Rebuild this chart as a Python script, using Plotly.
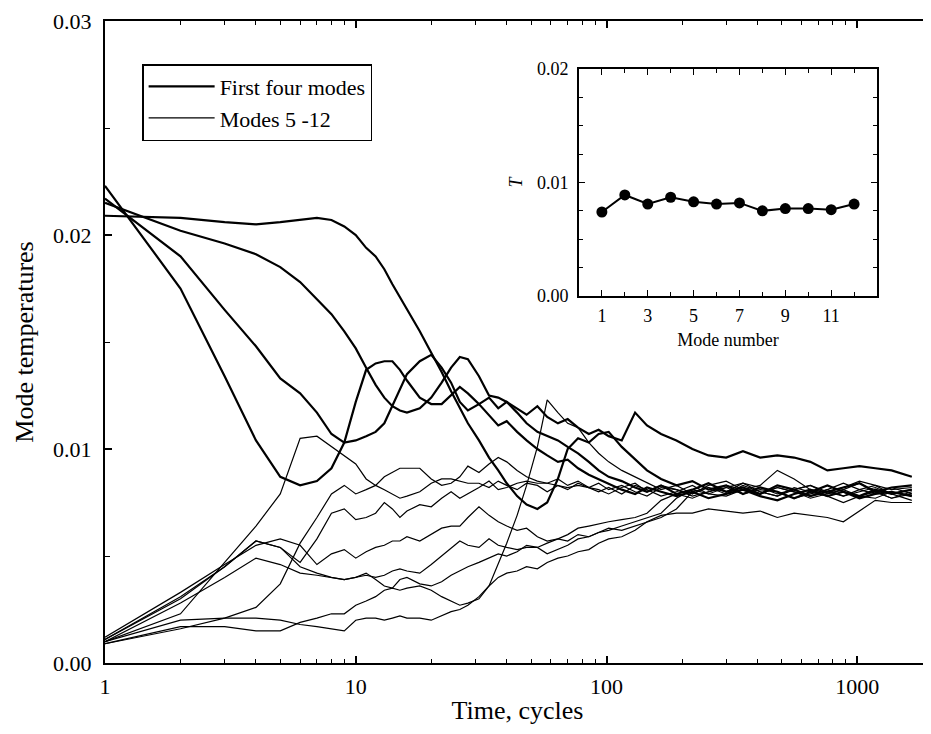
import plotly.graph_objects as go

# ---------------- data ----------------
TIME = [1, 2, 3, 4, 5, 6, 7, 8, 9, 10,
        11, 12, 13, 14, 15, 16, 18, 20, 22, 24, 26, 28, 31, 34, 37, 40, 44, 48, 53, 58, 64, 70, 77, 85, 93,
        102, 115, 130, 145, 165, 190, 220, 255, 300, 350, 410, 480, 560, 650, 760, 880, 1020, 1180, 1370, 1650]

mode1 = [0.0209, 0.0208, 0.0206, 0.0205, 0.0206, 0.0207, 0.0208, 0.0207, 0.0204, 0.0200,
         0.0194, 0.0190, 0.0184, 0.0177, 0.0171, 0.0165, 0.0155, 0.0145, 0.0136, 0.0127, 0.0119, 0.0112, 0.0104,
         0.0096, 0.0090, 0.0084, 0.0078, 0.0074, 0.0072, 0.0075, 0.0086, 0.0100, 0.0105, 0.0103, 0.0107,
         0.0108, 0.0101, 0.0095, 0.0090, 0.0086, 0.0083, 0.0085, 0.0081, 0.0083, 0.0079, 0.0082, 0.0080,
         0.0077, 0.0080, 0.0083, 0.0080, 0.0078, 0.0081, 0.0079, 0.0081]
mode2 = [0.0215, 0.0202, 0.0196, 0.0191, 0.0185, 0.0178, 0.0170, 0.0163, 0.0155, 0.0147,
         0.0138, 0.0130, 0.0124, 0.0120, 0.0118, 0.0117, 0.0119, 0.0124, 0.0131, 0.0138, 0.0143, 0.0142, 0.0134,
         0.0125, 0.0124, 0.0122, 0.0117, 0.0112, 0.0108, 0.0106, 0.0104, 0.0101, 0.0098, 0.0094, 0.0090,
         0.0087, 0.0085, 0.0082, 0.0080, 0.0083, 0.0079, 0.0081, 0.0084, 0.0080, 0.0082, 0.0079, 0.0083,
         0.0081, 0.0078, 0.0080, 0.0082, 0.0084, 0.0080, 0.0082, 0.0083]
mode3 = [0.0217, 0.0190, 0.0165, 0.0148, 0.0133, 0.0126, 0.0117, 0.0107, 0.0103, 0.0104,
         0.0106, 0.0108, 0.0112, 0.0120, 0.0128, 0.0135, 0.0141, 0.0144, 0.0138, 0.0131, 0.0122, 0.0118, 0.0121,
         0.0116, 0.0111, 0.0113, 0.0108, 0.0104, 0.0100, 0.0097, 0.0094, 0.0095, 0.0091, 0.0088, 0.0086,
         0.0084, 0.0081, 0.0079, 0.0082, 0.0080, 0.0078, 0.0080, 0.0077, 0.0079, 0.0081, 0.0078, 0.0076,
         0.0079, 0.0081, 0.0078, 0.0080, 0.0077, 0.0079, 0.0080, 0.0078]
mode4 = [0.0223, 0.0175, 0.0134, 0.0104, 0.0087, 0.0083, 0.0085, 0.0091, 0.0103, 0.0122,
         0.0137, 0.0140, 0.0141, 0.0141, 0.0137, 0.0132, 0.0124, 0.0121, 0.0121, 0.0125, 0.0129, 0.0126, 0.0121,
         0.0124, 0.0119, 0.0122, 0.0119, 0.0116, 0.0120, 0.0115, 0.0112, 0.0114, 0.0110, 0.0107, 0.0109,
         0.0106, 0.0104, 0.0117, 0.0111, 0.0107, 0.0104, 0.0100, 0.0097, 0.0096, 0.0099, 0.0096, 0.0097,
         0.0096, 0.0094, 0.0090, 0.0091, 0.0092, 0.0091, 0.0090, 0.0087]

mode5 = [0.0010, 0.0023, 0.0047, 0.0064, 0.0079, 0.0105, 0.0106, 0.0101, 0.0097, 0.0093,
         0.0086, 0.0083, 0.0081, 0.0079, 0.0077, 0.0078, 0.0080, 0.0084, 0.0086, 0.0086, 0.0085, 0.0084, 0.0084,
         0.0082, 0.0085, 0.0083, 0.0081, 0.0084, 0.0083, 0.0080, 0.0083, 0.0081, 0.0084, 0.0082, 0.0080,
         0.0082, 0.0079, 0.0083, 0.0081, 0.0078, 0.0080, 0.0083, 0.0079, 0.0082, 0.0084, 0.0080, 0.0078,
         0.0081, 0.0083, 0.0079, 0.0081, 0.0084, 0.0080, 0.0077, 0.0080]
mode6 = [0.0009, 0.0016, 0.0021, 0.0026, 0.0037, 0.0056, 0.0068, 0.0079, 0.0083, 0.0079,
         0.0081, 0.0083, 0.0087, 0.0089, 0.0091, 0.0091, 0.0091, 0.0086, 0.0083, 0.0084, 0.0087, 0.0092, 0.0089,
         0.0093, 0.0096, 0.0094, 0.0090, 0.0087, 0.0085, 0.0084, 0.0086, 0.0083, 0.0085, 0.0082, 0.0084,
         0.0081, 0.0083, 0.0080, 0.0078, 0.0082, 0.0081, 0.0079, 0.0083, 0.0085, 0.0081, 0.0079, 0.0082,
         0.0080, 0.0078, 0.0081, 0.0084, 0.0081, 0.0079, 0.0082, 0.0079]
mode7 = [0.0011, 0.0031, 0.0045, 0.0057, 0.0054, 0.0047, 0.0058, 0.0070, 0.0072, 0.0067,
         0.0068, 0.0070, 0.0075, 0.0072, 0.0068, 0.0071, 0.0074, 0.0073, 0.0077, 0.0080, 0.0077, 0.0079, 0.0082,
         0.0085, 0.0081, 0.0082, 0.0084, 0.0085, 0.0084, 0.0084, 0.0083, 0.0082, 0.0083, 0.0082, 0.0081,
         0.0079, 0.0082, 0.0084, 0.0080, 0.0083, 0.0081, 0.0078, 0.0080, 0.0083, 0.0081, 0.0083, 0.0090,
         0.0086, 0.0081, 0.0080, 0.0078, 0.0081, 0.0083, 0.0079, 0.0081]
mode8 = [0.0012, 0.0033, 0.0046, 0.0055, 0.0058, 0.0055, 0.0046, 0.0051, 0.0053, 0.0049,
         0.0052, 0.0054, 0.0055, 0.0057, 0.0057, 0.0059, 0.0057, 0.0060, 0.0063, 0.0064, 0.0064, 0.0068, 0.0073,
         0.0069, 0.0066, 0.0064, 0.0062, 0.0063, 0.0059, 0.0057, 0.0058, 0.0060, 0.0063, 0.0064, 0.0065,
         0.0066, 0.0067, 0.0068, 0.0070, 0.0076, 0.0079, 0.0077, 0.0080, 0.0082, 0.0079, 0.0081, 0.0080,
         0.0077, 0.0079, 0.0081, 0.0078, 0.0080, 0.0082, 0.0079, 0.0076]
mode9 = [0.0011, 0.0030, 0.0045, 0.0057, 0.0054, 0.0045, 0.0042, 0.0040, 0.0039, 0.0040,
         0.0041, 0.0040, 0.0041, 0.0043, 0.0044, 0.0043, 0.0042, 0.0046, 0.0050, 0.0054, 0.0057, 0.0055, 0.0054,
         0.0058, 0.0055, 0.0054, 0.0053, 0.0054, 0.0054, 0.0051, 0.0053, 0.0055, 0.0058, 0.0059, 0.0061,
         0.0062, 0.0064, 0.0066, 0.0068, 0.0070, 0.0077, 0.0081, 0.0079, 0.0078, 0.0081, 0.0079, 0.0082,
         0.0080, 0.0077, 0.0079, 0.0081, 0.0078, 0.0077, 0.0080, 0.0078]
mode10 = [0.0010, 0.0028, 0.0040, 0.0049, 0.0046, 0.0042, 0.0041, 0.0040, 0.0039, 0.0040,
          0.0042, 0.0039, 0.0036, 0.0035, 0.0039, 0.0040, 0.0037, 0.0036, 0.0038, 0.0041, 0.0043, 0.0045, 0.0047,
          0.0049, 0.0051, 0.0050, 0.0052, 0.0055, 0.0054, 0.0056, 0.0058, 0.0057, 0.0060, 0.0059, 0.0061,
          0.0063, 0.0062, 0.0064, 0.0066, 0.0068, 0.0072, 0.0080, 0.0082, 0.0079, 0.0083, 0.0080, 0.0078,
          0.0082, 0.0080, 0.0078, 0.0075, 0.0078, 0.0080, 0.0077, 0.0079]
mode11 = [0.0009, 0.0017, 0.0017, 0.0015, 0.0015, 0.0019, 0.0021, 0.0023, 0.0023, 0.0027,
          0.0029, 0.0031, 0.0034, 0.0035, 0.0034, 0.0035, 0.0036, 0.0034, 0.0031, 0.0029, 0.0027, 0.0028, 0.0030,
          0.0036, 0.0046, 0.0056, 0.0069, 0.0083, 0.0101, 0.0123, 0.0117, 0.0112, 0.0110, 0.0103, 0.0098,
          0.0094, 0.0090, 0.0087, 0.0084, 0.0081, 0.0083, 0.0079, 0.0082, 0.0080, 0.0084, 0.0082, 0.0079,
          0.0081, 0.0083, 0.0080, 0.0082, 0.0085, 0.0083, 0.0081, 0.0082]
mode12 = [0.0010, 0.0020, 0.0021, 0.0021, 0.0020, 0.0018, 0.0017, 0.0016, 0.0015, 0.0020,
          0.0021, 0.0021, 0.0020, 0.0021, 0.0022, 0.0021, 0.0021, 0.0020, 0.0022, 0.0024, 0.0025, 0.0027, 0.0031,
          0.0036, 0.0040, 0.0042, 0.0043, 0.0045, 0.0044, 0.0047, 0.0049, 0.0050, 0.0052, 0.0053, 0.0056,
          0.0058, 0.0059, 0.0062, 0.0066, 0.0069, 0.0070, 0.0070, 0.0072, 0.0071, 0.0070, 0.0071, 0.0068,
          0.0070, 0.0069, 0.0068, 0.0066, 0.0071, 0.0076, 0.0075, 0.0075]

FIRST_FOUR = [mode1, mode2, mode3, mode4]
MODES_5_12 = [mode5, mode6, mode7, mode8, mode9, mode10, mode11, mode12]

MODE_NUMBER = [1, 2, 3, 4, 5, 6, 7, 8, 9, 10, 11, 12]
MODE_T = [0.0074, 0.0089, 0.0081, 0.0087, 0.0083, 0.0081, 0.0082, 0.0075, 0.0077, 0.0077, 0.0076, 0.0081]

X_TICKS = [1, 10, 100, 1000]
X_TICK_TEXT = ["1", "10", "100", "1000"]
Y_TICKS = [0, 0.01, 0.02, 0.03]
Y_TICK_TEXT = ["0.00", "0.01", "0.02", "0.03"]
INSET_X_TICKS = [1, 3, 5, 7, 9, 11]
INSET_Y_TICKS = [0, 0.01, 0.02]
INSET_Y_TEXT = ["0.00", "0.01", "0.02"]

# ---------------- figure ----------------
FONT = "Liberation Serif, Times New Roman, serif"
fig = go.Figure()

for i, ys in enumerate(FIRST_FOUR):
    fig.add_trace(go.Scatter(x=TIME, y=ys, mode="lines", name="First four modes",
                             legendgroup="first", showlegend=(i == 0),
                             line=dict(color="black", width=2.2)))
for i, ys in enumerate(MODES_5_12):
    fig.add_trace(go.Scatter(x=TIME, y=ys, mode="lines", name="Modes 5 -12",
                             legendgroup="rest", showlegend=(i == 0),
                             line=dict(color="black", width=1.2)))

fig.add_trace(go.Scatter(x=MODE_NUMBER, y=MODE_T, mode="lines+markers", showlegend=False,
                         xaxis="x2", yaxis="y2",
                         line=dict(color="black", width=2),
                         marker=dict(color="black", size=11)))

minor_log = [m * 10 ** e for e in range(4) for m in range(2, 10)]

# the page body adds an 8 px offset, so the figure is sized to land the plot area
# at the same window pixels as the reference
fig.update_layout(
    width=923, height=726,
    margin=dict(l=97, r=1, t=13, b=71, autoexpand=False),
    paper_bgcolor="white", plot_bgcolor="white",
    font=dict(family=FONT, size=22, color="black"),
    xaxis=dict(type="log", range=[0, 3.29], domain=[0, 1], automargin=False,
               tickvals=X_TICKS, ticktext=X_TICK_TEXT,
               ticks="inside", ticklen=7, tickwidth=1.5, tickcolor="black",
               minor=dict(tickvals=minor_log, ticks="inside", ticklen=4, tickwidth=1, tickcolor="black"),
               showline=True, linewidth=2, linecolor="black", mirror="allticks",
               showgrid=False, zeroline=False, ticklabelstandoff=3,
               tickfont=dict(family=FONT, size=22),
               title=dict(text="Time, cycles", font=dict(family=FONT, size=26), standoff=2)),
    yaxis=dict(range=[0, 0.03], domain=[0, 1], automargin=False,
               tickvals=Y_TICKS, ticktext=Y_TICK_TEXT,
               ticks="inside", ticklen=7, tickwidth=1.5, tickcolor="black",
               minor=dict(dtick=0.005, ticks="inside", ticklen=5, tickwidth=1, tickcolor="black"),
               showline=True, linewidth=2, linecolor="black", mirror="allticks",
               showgrid=False, zeroline=False, ticklabelstandoff=7,
               tickfont=dict(family=FONT, size=22),
               title=dict(text="Mode temperatures", font=dict(family=FONT, size=26), standoff=12)),
    xaxis2=dict(domain=[0.5745, 0.9358], anchor="y2", range=[0, 13], automargin=False,
                tickvals=INSET_X_TICKS,
                ticks="inside", ticklen=6, tickwidth=1.2, tickcolor="black",
                minor=dict(dtick=1, ticks="inside", ticklen=4, tickwidth=1, tickcolor="black"),
                showline=True, linewidth=1.5, linecolor="black", mirror="allticks",
                showgrid=False, zeroline=False, ticklabelstandoff=3,
                tickfont=dict(family=FONT, size=18),
                title=dict(text="Mode number", font=dict(family=FONT, size=18), standoff=8)),
    yaxis2=dict(domain=[0.5717, 0.9252], anchor="x2", range=[0, 0.02], automargin=False,
                tickvals=INSET_Y_TICKS, ticktext=INSET_Y_TEXT,
                ticks="inside", ticklen=6, tickwidth=1.2, tickcolor="black",
                minor=dict(dtick=0.0025, ticks="inside", ticklen=4, tickwidth=1, tickcolor="black"),
                showline=True, linewidth=1.5, linecolor="black", mirror="allticks",
                showgrid=False, zeroline=False, ticklabelstandoff=5,
                tickfont=dict(family=FONT, size=18),
                title=dict(text="<i>T</i>", font=dict(family=FONT, size=18), standoff=10)),
    legend=dict(x=0.045, y=0.933, xanchor="left", yanchor="top",
                bgcolor="white", bordercolor="black", borderwidth=1.5,
                font=dict(family=FONT, size=22), traceorder="normal",
                tracegroupgap=0, itemwidth=66),
)

fig.write_html("out.html")
